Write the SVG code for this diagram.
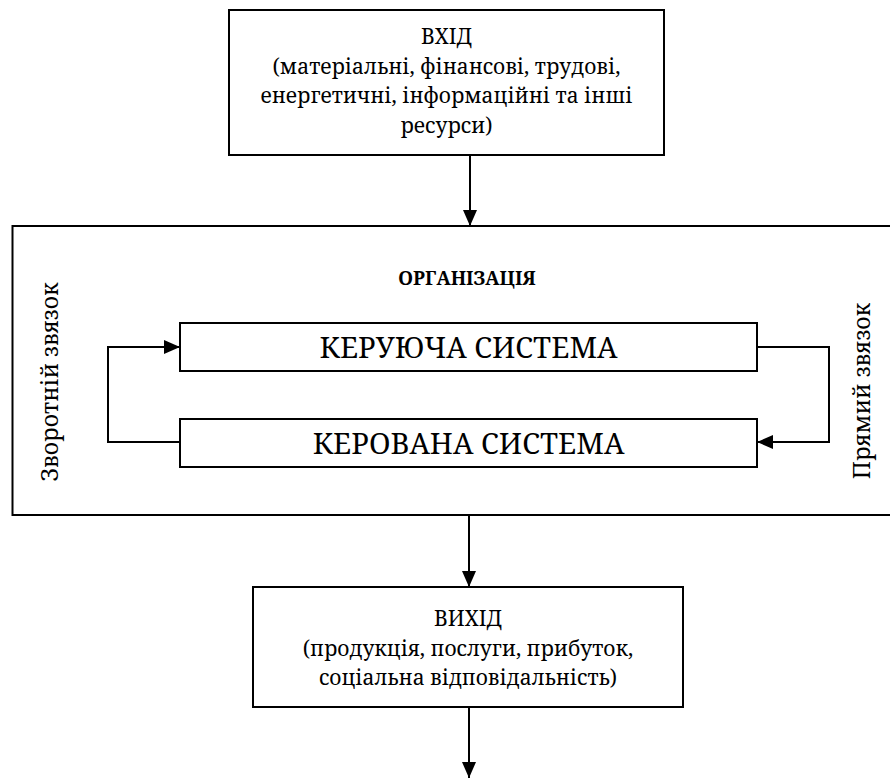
<svg xmlns="http://www.w3.org/2000/svg" width="890" height="778" viewBox="0 0 890 778">
  <style>
    .box { fill: #fff; stroke: #000; stroke-width: 2; }
    .frame { fill: none; stroke: #000; stroke-width: 2; }
    .line { fill: none; stroke: #000; stroke-width: 2; }
    .t { font-size: 21px; text-anchor: middle; }
    .sys { font-size: 29px; text-anchor: middle; }
    .title { font-size: 19px; font-weight: bold; text-anchor: middle; }
    .side { font-size: 23px; text-anchor: middle; }
  </style>
  <defs>
    <marker id="arrow" viewBox="0 0 16 14" refX="16" refY="7" markerWidth="16" markerHeight="14" markerUnits="userSpaceOnUse" orient="auto">
      <path d="M0,0 L16,7 L0,14 Z" fill="#000"/>
    </marker>
  </defs>

  <rect width="890" height="778" fill="#fff"/>

  <g font-family="'Noto Serif', 'Liberation Serif', serif" fill="#000">
    <!-- organisation frame, open on the right -->
    <g id="organization">
      <path class="frame" d="M890,226 H12.5 V515 H890"/>
      <text class="title" x="467" y="285">ОРГАНІЗАЦІЯ</text>
      <text class="side" transform="translate(58,382) rotate(-90)">Зворотній звязок</text>
      <text class="side" transform="translate(870,391) rotate(-90)">Прямий звязок</text>
    </g>

    <g id="input">
      <rect class="box" x="229" y="10" width="435" height="145"/>
      <text class="t" x="446.5" y="44">ВХІД</text>
      <text class="t" x="446.5" y="74">(матеріальні, фінансові, трудові,</text>
      <text class="t" x="446.5" y="103">енергетичні, інформаційні та інші</text>
      <text class="t" x="446.5" y="133">ресурси)</text>
    </g>

    <g id="managing-system">
      <rect class="box" x="180" y="323" width="577" height="48"/>
      <text class="sys" x="468.5" y="358">КЕРУЮЧА СИСТЕМА</text>
    </g>

    <g id="managed-system">
      <rect class="box" x="180" y="419" width="577" height="48"/>
      <text class="sys" x="468.5" y="454">КЕРОВАНА СИСТЕМА</text>
    </g>

    <g id="output">
      <rect class="box" x="253" y="587" width="430" height="120"/>
      <text class="t" x="468" y="626">ВИХІД</text>
      <text class="t" x="468" y="656">(продукція, послуги, прибуток,</text>
      <text class="t" x="468" y="685">соціальна відповідальність)</text>
    </g>
  </g>

  <g id="connectors">
    <path class="line" d="M470,155 V226" marker-end="url(#arrow)"/>
    <path class="line" d="M180,442 H108 V347 H180" marker-end="url(#arrow)"/>
    <path class="line" d="M757,347 H829 V442 H757" marker-end="url(#arrow)"/>
    <path class="line" d="M469,515 V587" marker-end="url(#arrow)"/>
    <path class="line" d="M469,707 V778" marker-end="url(#arrow)"/>
  </g>
</svg>
